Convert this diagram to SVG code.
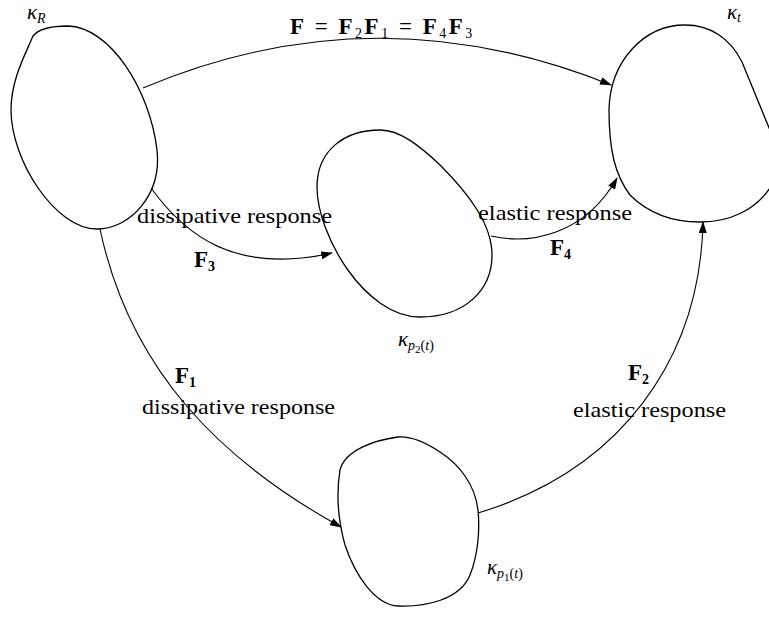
<svg xmlns="http://www.w3.org/2000/svg" width="769" height="618" viewBox="0 0 769 618">
<style>
.blob{fill:none;stroke:#000;stroke-width:1.3}
.edge{fill:none;stroke:#000;stroke-width:1.1;marker-end:url(#ah)}
.t{font-family:"Liberation Serif","Times New Roman",serif;font-size:22px;fill:#000}
.b{font-family:"Liberation Serif","Times New Roman",serif;font-size:23px;font-weight:bold;fill:#000}
.m{font-family:"Liberation Serif","Times New Roman",serif;font-size:21px;font-style:italic;fill:#000}
.s{font-size:14px}
.ss{font-size:11px}
</style>
<defs>
<marker id="ah" viewBox="0 0 12 8" refX="11" refY="4" markerWidth="12" markerHeight="8" markerUnits="userSpaceOnUse" orient="auto">
<path d="M0,0 L12,4 L0,8 Z" fill="#000"/>
</marker>
</defs>
<rect width="769" height="618" fill="#fff"/>
<g id="kappaR">
<path class="blob" d="M 33,36 C 40,27 55,26 68,26 C 110,27 150,90 157,150 C 162,195 130,229 97,229 C 55,229 11,160 11,110 C 11,80 25,55 33,36 Z"/>
<text class="m" x="27" y="19">κ<tspan class="s" dy="4">R</tspan></text>
</g>
<g id="kappaT">
<path class="blob" d="M 685,25 C 645,25 610,60 609,110 C 609,150 615,175 630,195 C 650,215 675,222 700,222 C 730,222 755,210 770,188 L 772,135 L 742,62 C 730,38 710,25 685,25 Z"/>
<text class="m" x="727" y="19">κ<tspan class="s" dy="3">t</tspan></text>
</g>
<g id="kappaP2">
<path class="blob" d="M 380,130 C 345,130 317,150 317,187 C 317,235 365,317 420,317 C 465,317 492,290 492,255 C 492,225 470,195 440,165 C 420,146 400,130 380,130 Z"/>
<text class="m" x="398" y="346">κ<tspan class="s" dy="4">p</tspan><tspan class="ss" font-style="normal" dy="3">2</tspan><tspan class="s" font-style="normal" dy="-3">(</tspan><tspan class="s">t</tspan><tspan class="s" font-style="normal">)</tspan></text>
</g>
<g id="kappaP1">
<path class="blob" d="M 398,437 C 375,440 345,450 340,470 C 336,495 338,520 345,545 C 355,575 375,605 398,606 C 425,607 460,600 470,575 C 478,555 480,530 478,510 C 475,485 460,465 440,452 C 425,442 410,436 398,437 Z"/>
<text class="m" x="487" y="574">κ<tspan class="s" dy="4">p</tspan><tspan class="ss" font-style="normal" dy="3">1</tspan><tspan class="s" font-style="normal" dy="-3">(</tspan><tspan class="s">t</tspan><tspan class="s" font-style="normal">)</tspan></text>
</g>
<g id="connectors">
<path class="edge" d="M 143,88 Q 375,-10 611,85"/>
<path class="edge" d="M 151,188 C 185,235 235,275 332,253"/>
<path class="edge" d="M 491,236 C 530,245 585,235 617,178"/>
<path class="edge" d="M 100,229 C 130,370 220,460 341,527"/>
<path class="edge" d="M 478,513 C 620,470 700,360 703,222"/>
</g>
<g id="labels">
<text class="b" x="290" y="34" font-size="25" letter-spacing="2.5">F<tspan font-weight="normal"> = </tspan>F<tspan class="s" font-size="16" font-weight="normal" dy="4">2</tspan><tspan dy="-4">F</tspan><tspan class="s" font-size="16" font-weight="normal" dy="4">1</tspan><tspan dy="-4" font-weight="normal"> = </tspan>F<tspan class="s" font-size="16" font-weight="normal" dy="4">4</tspan><tspan dy="-4">F</tspan><tspan class="s" font-size="16" font-weight="normal" dy="4">3</tspan></text>
<text class="t" x="137" y="223" textLength="195" lengthAdjust="spacingAndGlyphs">dissipative response</text>
<text class="t" x="478" y="220" textLength="154" lengthAdjust="spacingAndGlyphs">elastic response</text>
<text class="b" x="194" y="267">F<tspan class="s" dy="4">3</tspan></text>
<text class="b" x="550" y="255">F<tspan class="s" dy="4">4</tspan></text>
<text class="b" x="175" y="383">F<tspan class="s" dy="4">1</tspan></text>
<text class="t" x="142" y="414" textLength="193" lengthAdjust="spacingAndGlyphs">dissipative response</text>
<text class="b" x="628" y="380">F<tspan class="s" dy="4">2</tspan></text>
<text class="t" x="573" y="417" textLength="153" lengthAdjust="spacingAndGlyphs">elastic response</text>
</g>
</svg>
